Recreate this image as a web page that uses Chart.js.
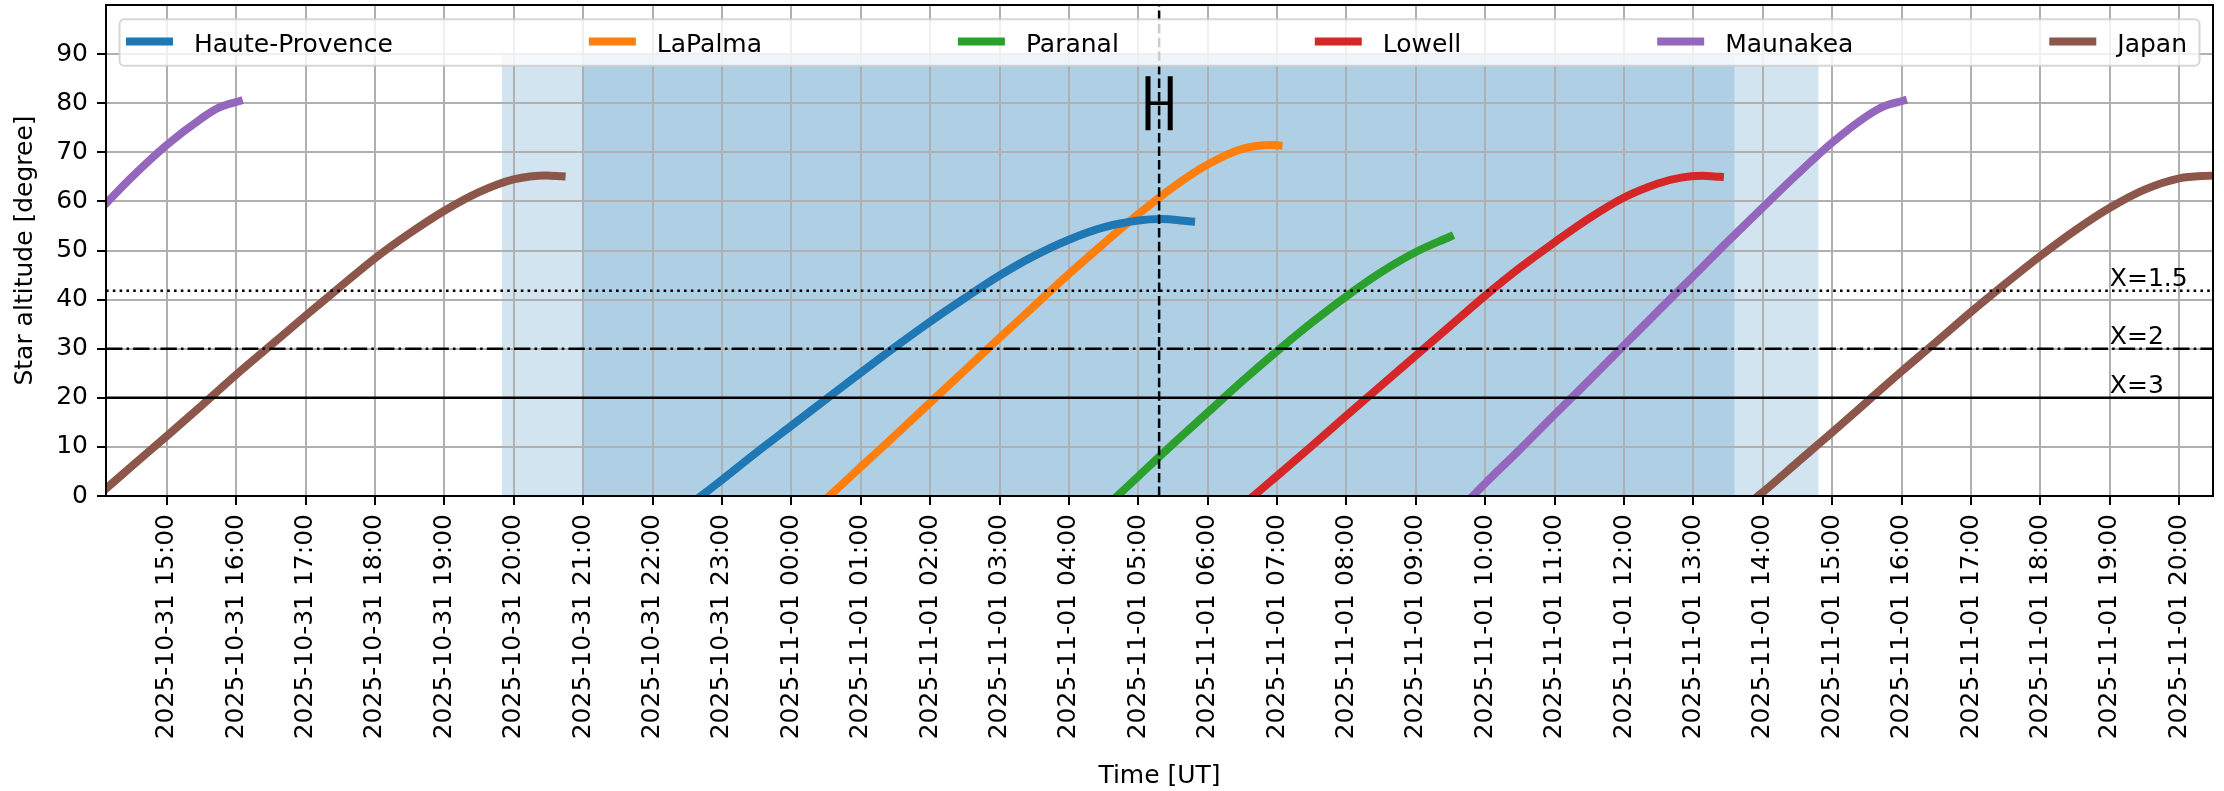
<!DOCTYPE html>
<html>
<head>
<meta charset="utf-8">
<title>Star altitude</title>
<script src="https://cdn.jsdelivr.net/npm/chart.js@4.4.1/dist/chart.umd.min.js"></script>
<style>
  html, body { margin: 0; padding: 0; background: #ffffff; overflow: hidden; }
  #wrap { width: 2224px; height: 791px; }
</style>
</head>
<body>
<div id="wrap"><canvas id="chart" width="2224" height="791"></canvas></div>
<script>
// Time is counted in hours from 2025-10-31 00:00 UT.
const timeMin = 14.125;
const timeMax = 44.486;

const tickHours = [15, 16, 17, 18, 19, 20, 21, 22, 23, 24, 25, 26, 27, 28, 29,
                   30, 31, 32, 33, 34, 35, 36, 37, 38, 39, 40, 41, 42, 43, 44];
const tickLabels = [
  '2025-10-31 15:00', '2025-10-31 16:00', '2025-10-31 17:00', '2025-10-31 18:00',
  '2025-10-31 19:00', '2025-10-31 20:00', '2025-10-31 21:00', '2025-10-31 22:00',
  '2025-10-31 23:00', '2025-11-01 00:00', '2025-11-01 01:00', '2025-11-01 02:00',
  '2025-11-01 03:00', '2025-11-01 04:00', '2025-11-01 05:00', '2025-11-01 06:00',
  '2025-11-01 07:00', '2025-11-01 08:00', '2025-11-01 09:00', '2025-11-01 10:00',
  '2025-11-01 11:00', '2025-11-01 12:00', '2025-11-01 13:00', '2025-11-01 14:00',
  '2025-11-01 15:00', '2025-11-01 16:00', '2025-11-01 17:00', '2025-11-01 18:00',
  '2025-11-01 19:00', '2025-11-01 20:00'
];
const altitudeTicks = [0, 10, 20, 30, 40, 50, 60, 70, 80, 90];

// Star altitude (degrees) per observatory
const hauteProvenceTime = [22.70, 23.0, 23.5, 24.0, 24.5, 25.0, 25.5, 26.0, 26.5, 27.0, 27.5, 28.0, 28.5, 29.0, 29.32, 29.76];
const hauteProvenceAlt  = [0.0, 3.3, 8.9, 14.3, 19.7, 25.1, 30.4, 35.5, 40.3, 44.9, 48.9, 52.2, 54.7, 56.1, 56.4, 55.9];

const laPalmaTime = [24.55, 25.0, 25.5, 26.0, 26.5, 27.0, 27.5, 28.0, 28.5, 29.0, 29.5, 30.0, 30.5, 30.91, 31.02];
const laPalmaAlt  = [0.0, 5.9, 12.4, 19.0, 25.6, 32.2, 38.7, 45.2, 51.4, 57.4, 62.9, 67.5, 70.7, 71.5, 71.4];

const paranalTime = [28.70, 29.0, 29.5, 30.0, 30.5, 31.0, 31.5, 32.0, 32.5, 33.0, 33.49];
const paranalAlt  = [0.0, 4.0, 10.6, 17.0, 23.4, 29.5, 35.3, 40.7, 45.6, 49.7, 52.8];

const lowellTime = [30.66, 31.0, 31.5, 32.0, 32.5, 33.0, 33.5, 34.0, 34.5, 35.0, 35.5, 36.0, 36.5, 36.8, 37.13, 37.38];
const lowellAlt  = [0.0, 4.1, 10.2, 16.4, 22.5, 28.6, 34.7, 40.8, 46.5, 51.7, 56.6, 60.8, 63.7, 64.8, 65.2, 65.0];

const maunakeaEveningTime = [14.125, 14.5, 15.0, 15.5, 15.75, 16.04];
const maunakeaEveningAlt  = [59.6, 65.0, 71.5, 76.9, 79.1, 80.4];
const maunakeaMorningTime = [33.82, 34.0, 34.5, 35.0, 35.5, 36.0, 36.5, 37.0, 37.5, 38.0, 38.5, 39.0, 39.5, 39.75, 40.02];
const maunakeaMorningAlt  = [0.0, 2.6, 9.5, 16.6, 23.6, 30.7, 37.8, 44.8, 51.9, 58.8, 65.6, 72.0, 77.4, 79.4, 80.5];

const japanEveningTime = [14.125, 14.5, 15.0, 15.5, 16.0, 16.5, 17.0, 17.5, 18.0, 18.5, 19.0, 19.5, 20.0, 20.47, 20.69];
const japanEveningAlt  = [1.5, 6.1, 12.2, 18.4, 24.7, 30.7, 36.7, 42.6, 48.4, 53.5, 58.1, 61.9, 64.5, 65.3, 65.1];
const japanMorningTime = [37.93, 38.0, 38.5, 39.0, 39.5, 40.0, 40.5, 41.0, 41.5, 42.0, 42.5, 43.0, 43.5, 44.0, 44.486];
const japanMorningAlt  = [0.0, 0.8, 6.9, 13.0, 19.2, 25.4, 31.4, 37.5, 43.3, 48.9, 54.1, 58.7, 62.4, 64.7, 65.3];

// Twilight / night bands (hours) and their upper altitude
const bandStart = [19.83, 21.01];
const bandEnd   = [38.80, 37.59];
const bandTop   = 90;

// Airmass reference altitudes
const airmassAlt    = [41.8, 30, 20];
const airmassLabels = ['X=1.5', 'X=2', 'X=3'];

// Transit marker with its time range
const transitTime  = 29.30;
const transitAlt   = 80;
const transitHalf  = 0.16;
const transitCap   = 5.5;

// ---- styling ----
const FONT = '"DejaVu Sans", "Liberation Sans", sans-serif';
const FS = 25;
const LW = 8;
const siteColors = ['#1f77b4', '#ff7f0e', '#2ca02c', '#d62728', '#9467bd', '#8c564b'];
const airmassDash = [[2.6, 4.2], [16.4, 4.1, 2.6, 4.1], []];
const airmassLabelTime = 43.0;

function points(times, alts) {
  return times.map((t, i) => ({ x: t, y: alts[i] }));
}
function joined(t1, a1, t2, a2) {
  const gap = { x: (t1[t1.length - 1] + t2[0]) / 2, y: null };
  return points(t1, a1).concat([gap], points(t2, a2));
}

const siteSeries = [
  { label: 'Haute-Provence', data: points(hauteProvenceTime, hauteProvenceAlt) },
  { label: 'LaPalma', data: points(laPalmaTime, laPalmaAlt) },
  { label: 'Paranal', data: points(paranalTime, paranalAlt) },
  { label: 'Lowell', data: points(lowellTime, lowellAlt) },
  { label: 'Maunakea', data: joined(maunakeaEveningTime, maunakeaEveningAlt, maunakeaMorningTime, maunakeaMorningAlt) },
  { label: 'Japan', data: joined(japanEveningTime, japanEveningAlt, japanMorningTime, japanMorningAlt) }
];

const datasets = siteSeries.map((s, i) => ({
  label: s.label,
  data: s.data,
  borderColor: siteColors[i],
  backgroundColor: siteColors[i],
  borderWidth: LW,
  borderCapStyle: 'square',
  borderJoinStyle: 'round',
  cubicInterpolationMode: 'monotone',
  pointRadius: 0,
  fill: false,
  spanGaps: false,
  clip: 0
}));

const decorations = {
  id: 'decorations',
  beforeDraw(chart) {
    const { ctx, chartArea: a, scales: { x, y } } = chart;
    ctx.save();
    ctx.beginPath();
    ctx.rect(a.left, a.top, a.right - a.left, a.bottom - a.top);
    ctx.clip();
    ctx.fillStyle = 'rgba(31,119,180,0.2)';
    for (let i = 0; i < bandStart.length; i++) {
      const x0 = x.getPixelForValue(bandStart[i]);
      const x1 = x.getPixelForValue(bandEnd[i]);
      const y0 = y.getPixelForValue(bandTop);
      const y1 = y.getPixelForValue(0);
      ctx.fillRect(x0, y0, x1 - x0, y1 - y0);
    }
    ctx.restore();
  },
  afterDatasetsDraw(chart) {
    const { ctx, chartArea: a, scales: { x, y } } = chart;
    ctx.save();
    ctx.beginPath();
    ctx.rect(a.left, a.top, a.right - a.left, a.bottom - a.top);
    ctx.clip();

    // airmass levels
    ctx.strokeStyle = '#000';
    ctx.lineWidth = 2.5;
    airmassAlt.forEach((alt, i) => {
      const py = y.getPixelForValue(alt);
      ctx.setLineDash(airmassDash[i]);
      ctx.beginPath();
      ctx.moveTo(a.left, py);
      ctx.lineTo(a.right, py);
      ctx.stroke();
    });
    ctx.setLineDash([]);
    ctx.fillStyle = '#000';
    ctx.font = FS + 'px ' + FONT;
    ctx.textAlign = 'left';
    ctx.textBaseline = 'alphabetic';
    airmassAlt.forEach((alt, i) => {
      ctx.fillText(airmassLabels[i], x.getPixelForValue(airmassLabelTime), y.getPixelForValue(alt) - 5);
    });

    // transit time line
    const px = x.getPixelForValue(transitTime);
    ctx.lineWidth = 2.5;
    ctx.setLineDash([9.5, 4.1]);
    ctx.beginPath();
    ctx.moveTo(px, a.bottom);
    ctx.lineTo(px, a.top);
    ctx.stroke();
    ctx.setLineDash([]);

    // time range bar with caps
    const xl = x.getPixelForValue(transitTime - transitHalf);
    const xr = x.getPixelForValue(transitTime + transitHalf);
    const yc = y.getPixelForValue(transitAlt);
    const yt = y.getPixelForValue(transitAlt + transitCap);
    const yb = y.getPixelForValue(transitAlt - transitCap);
    ctx.lineWidth = 3.5;
    ctx.beginPath();
    ctx.moveTo(xl, yc);
    ctx.lineTo(xr, yc);
    ctx.stroke();
    ctx.lineWidth = 5;
    ctx.beginPath();
    ctx.moveTo(xl, yt); ctx.lineTo(xl, yb);
    ctx.moveTo(xr, yt); ctx.lineTo(xr, yb);
    ctx.stroke();
    ctx.restore();

    // axes frame
    ctx.save();
    ctx.strokeStyle = '#000';
    ctx.lineWidth = 2;
    ctx.strokeRect(a.left, a.top, a.right - a.left, a.bottom - a.top);
    ctx.restore();
  },
  afterDraw(chart) {
    const { ctx, chartArea: a } = chart;
    const boxL = a.left + 13.5, boxR = a.right - 13.5;
    const boxT = a.top + 14.3, boxB = a.top + 60.7;
    const r = 5;
    ctx.save();
    ctx.beginPath();
    ctx.moveTo(boxL + r, boxT);
    ctx.lineTo(boxR - r, boxT);
    ctx.arcTo(boxR, boxT, boxR, boxT + r, r);
    ctx.lineTo(boxR, boxB - r);
    ctx.arcTo(boxR, boxB, boxR - r, boxB, r);
    ctx.lineTo(boxL + r, boxB);
    ctx.arcTo(boxL, boxB, boxL, boxB - r, r);
    ctx.lineTo(boxL, boxT + r);
    ctx.arcTo(boxL, boxT, boxL + r, boxT, r);
    ctx.closePath();
    ctx.fillStyle = 'rgba(255,255,255,0.8)';
    ctx.fill();
    ctx.strokeStyle = 'rgba(204,204,204,0.8)';
    ctx.lineWidth = 2;
    ctx.stroke();

    ctx.font = FS + 'px ' + FONT;
    ctx.textAlign = 'left';
    ctx.textBaseline = 'alphabetic';
    const sets = chart.data.datasets;
    const handleLen = 47, handleGap = 21;
    const widths = sets.map(d => ctx.measureText(d.label).width);
    const total = widths.reduce((s, w) => s + w + handleLen + handleGap, 0);
    const contentL = boxL + 6.5, contentR = boxR - 12.5;
    const gap = (contentR - contentL - total) / (sets.length - 1);
    let cx = contentL;
    sets.forEach((d, i) => {
      ctx.strokeStyle = d.borderColor;
      ctx.lineWidth = LW;
      ctx.lineCap = 'butt';
      ctx.beginPath();
      ctx.moveTo(cx, boxT + 22.2);
      ctx.lineTo(cx + handleLen, boxT + 22.2);
      ctx.stroke();
      ctx.fillStyle = '#000';
      ctx.fillText(d.label, cx + handleLen + handleGap, boxT + 32.3);
      cx += handleLen + handleGap + widths[i] + gap;
    });
    ctx.restore();
  }
};

const gridStyle = { color: '#b0b0b0', lineWidth: 2, tickColor: '#000', tickWidth: 2, tickLength: 9 };

// Keep the plot frame fixed: no extra edge padding from tick labels.
function noEdgePadding(s) {
  s.paddingTop = 0;
  s.paddingBottom = 0;
  s.paddingLeft = 0;
  s.paddingRight = 0;
}

new Chart(document.getElementById('chart'), {
  type: 'line',
  data: { datasets },
  options: {
    responsive: false,
    animation: false,
    devicePixelRatio: 1,
    events: [],
    layout: { padding: { top: 5, right: 11, left: 0, bottom: 0 } },
    plugins: { legend: { display: false }, tooltip: { enabled: false } },
    scales: {
      x: {
        type: 'linear',
        min: timeMin,
        max: timeMax,
        afterFit: s => { s.height = 295; noEdgePadding(s); },
        afterBuildTicks: s => { s.ticks = tickHours.map(v => ({ value: v })); },
        ticks: {
          autoSkip: false,
          minRotation: 90,
          maxRotation: 90,
          padding: 9,
          color: '#000',
          font: { family: FONT, size: FS },
          callback: v => tickLabels[tickHours.indexOf(v)]
        },
        grid: gridStyle,
        border: { display: false },
        title: {
          display: true,
          text: 'Time [UT]',
          color: '#000',
          font: { family: FONT, size: FS },
          padding: { top: 0, bottom: 0 }
        }
      },
      y: {
        min: 0,
        max: 100,
        afterFit: s => { s.width = 106; noEdgePadding(s); },
        afterBuildTicks: s => { s.ticks = altitudeTicks.map(v => ({ value: v })); },
        ticks: {
          padding: 9,
          color: '#000',
          font: { family: FONT, size: FS }
        },
        grid: gridStyle,
        border: { display: false },
        title: {
          display: true,
          text: 'Star altitude [degree]',
          color: '#000',
          font: { family: FONT, size: FS },
          padding: { top: 10.5, bottom: 0 }
        }
      }
    }
  },
  plugins: [decorations]
});
</script>
</body>
</html>
